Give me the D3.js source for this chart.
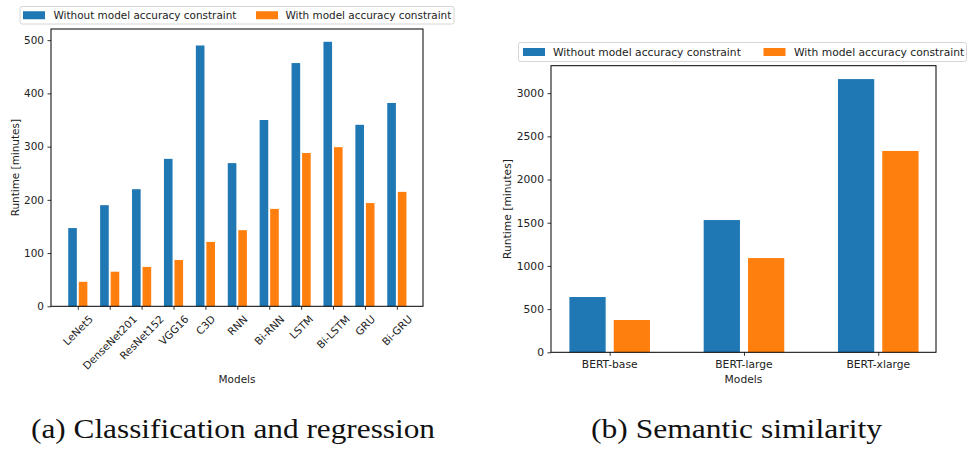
<!DOCTYPE html>
<html>
<head>
<meta charset="utf-8">
<script src="https://cdn.jsdelivr.net/npm/d3@7"></script>
<style>
  html, body { margin: 0; padding: 0; background: #fff; }
  svg { display: block; }
</style>
</head>
<body>
<svg id="fig" width="968" height="449"></svg>
<script>
// ---- data ----
const seriesNames = ["Without model accuracy constraint", "With model accuracy constraint"];
const seriesColors = ["#1f77b4", "#ff7f0e"];

const clsModels = ["LeNet5", "DenseNet201", "ResNet152", "VGG16", "C3D", "RNN", "Bi-RNN", "LSTM", "Bi-LSTM", "GRU", "Bi-GRU"];
const clsWithout = [147, 190, 220, 277, 490, 269, 350, 457, 497, 341, 382];
const clsWith = [46, 65, 74, 87, 121, 143, 183, 288, 299, 194, 215];
const clsTicks = [0, 100, 200, 300, 400, 500];

const simModels = ["BERT-base", "BERT-large", "BERT-xlarge"];
const simWithout = [640, 1531, 3163];
const simWith = [374, 1091, 2331];
const simTicks = [0, 500, 1000, 1500, 2000, 2500, 3000];

const captions = ["(a) Classification and regression", "(b) Semantic similarity"];

const SANS = "'DejaVu Sans', sans-serif";
const svg = d3.select("#fig");

// font size giving a legend entry of the wanted width
function fitFont(text, width) {
  const t = svg.append("text").attr("font-family", SANS).attr("font-size", 10).text(text);
  const w = t.node().getComputedTextLength();
  t.remove();
  return 10 * width / w;
}

function drawPanel(p) {
  const fs = fitFont(seriesNames[0], p.legendWidth);
  const g = svg.append("g").attr("font-family", SANS).attr("fill", "#222");
  const x = d3.scaleLinear().domain(p.xDomain).range([p.left, p.right]);
  const y = d3.scaleLinear().domain([0, p.yMax]).range([p.bottom, p.top]);

  // bars: each series is a 0.3-wide bar either side of the category position
  [p.without, p.withC].forEach((vals, s) => {
    g.append("g").selectAll("rect").data(vals).join("rect")
      .attr("x", (d, i) => s === 0 ? x(i - 0.3) : x(i + p.gap))
      .attr("width", x(0.3 - p.gap) - x(0))
      .attr("y", d => y(d))
      .attr("height", d => y(0) - y(d))
      .attr("fill", seriesColors[s]);
  });

  // y axis
  const yAxis = d3.axisLeft(y).tickValues(p.yTicks).tickSize(3.5).tickPadding(3.5).tickFormat(d3.format("d"));
  const ya = g.append("g").attr("transform", `translate(${p.left},0)`).call(yAxis);
  ya.select(".domain").remove();
  ya.selectAll("line").attr("stroke", "#000").attr("stroke-width", 0.8);
  ya.selectAll("text").attr("font-size", fs).attr("font-family", SANS).attr("fill", "#222");

  // x axis
  const xAxis = d3.axisBottom(x).tickValues(d3.range(p.models.length)).tickSize(3.5).tickFormat("");
  const xa = g.append("g").attr("transform", `translate(0,${p.bottom})`).call(xAxis);
  xa.select(".domain").remove();
  xa.selectAll("line").attr("stroke", "#000").attr("stroke-width", 0.8);

  // category labels
  const lbl = g.append("g").selectAll("text").data(p.models).join("text")
    .attr("font-size", fs)
    .attr("text-anchor", "middle")
    .text(d => d);
  if (p.rotate) {
    const h = fs * 1.16;
    const y0 = p.bottom + 6.5;
    lbl.attr("dominant-baseline", "central")
      .attr("transform", function (d, i) {
        const w = this.getComputedTextLength();
        const cy = y0 + (w + h) / (2 * Math.SQRT2);
        return `translate(${x(i)},${cy}) rotate(-45)`;
      });
  } else {
    lbl.attr("x", (d, i) => x(i)).attr("y", p.bottom + 15.4);
  }

  // frame
  g.append("rect")
    .attr("x", p.left).attr("y", p.top)
    .attr("width", p.right - p.left).attr("height", p.bottom - p.top)
    .attr("fill", "none").attr("stroke", "#000").attr("stroke-width", 1);

  // axis titles
  g.append("text")
    .attr("font-size", fs)
    .attr("text-anchor", "middle")
    .attr("dominant-baseline", "central")
    .attr("transform", `translate(${p.yLabelX},${(p.top + p.bottom) / 2}) rotate(-90)`)
    .text("Runtime [minutes]");
  g.append("text")
    .attr("font-size", fs)
    .attr("text-anchor", "middle")
    .attr("x", (p.left + p.right) / 2)
    .attr("y", p.xLabelY)
    .text("Models");

  // legend
  const L = p.legend;
  g.append("rect")
    .attr("x", L.x0 + 0.5).attr("y", L.y0 + 0.5)
    .attr("width", L.x1 - L.x0 - 1).attr("height", L.y1 - L.y0 - 1)
    .attr("rx", 2).attr("fill", "#fff").attr("fill-opacity", 0.8)
    .attr("stroke", "#d6d6d6").attr("stroke-width", 1);
  const cy = (L.y0 + L.y1) / 2;
  seriesNames.forEach((name, s) => {
    g.append("rect")
      .attr("x", L.patchX[s]).attr("y", cy - 4)
      .attr("width", 22).attr("height", 8)
      .attr("fill", seriesColors[s]);
    g.append("text")
      .attr("font-size", fs)
      .attr("x", L.textX[s]).attr("y", cy)
      .attr("dominant-baseline", "central")
      .text(name);
  });
}

drawPanel({
  models: clsModels, without: clsWithout, withC: clsWith, yTicks: clsTicks,
  xDomain: [-0.84, 10.82], yMax: 521,
  left: 51, right: 423, top: 29, bottom: 306.3, gap: 0.03,
  legendWidth: 183, rotate: true, yLabelX: 14.5, xLabelY: 383,
  legend: { x0: 19.5, x1: 454.5, y0: 6, y1: 24.5, patchX: [23, 256], textX: [53.5, 285.5] }
});

drawPanel({
  models: simModels, without: simWithout, withC: simWith, yTicks: simTicks,
  xDomain: [-0.437, 2.43], yMax: 3318,
  left: 551, right: 936, top: 65.7, bottom: 352.3, gap: 0.03,
  legendWidth: 188, rotate: false, yLabelX: 507, xLabelY: 382.5,
  legend: { x0: 518, x1: 967, y0: 42, y1: 62, patchX: [523, 763.5], textX: [553, 794] }
});

// sub-figure captions
const capX = [31, 591], capW = [404, 291];
captions.forEach((c, i) => {
  svg.append("text")
    .attr("x", capX[i]).attr("y", 437.7)
    .attr("font-family", "'Liberation Serif', serif")
    .attr("font-size", 28)
    .attr("fill", "#111")
    .attr("textLength", capW[i])
    .attr("lengthAdjust", "spacingAndGlyphs")
    .text(c);
});
</script>
</body>
</html>
